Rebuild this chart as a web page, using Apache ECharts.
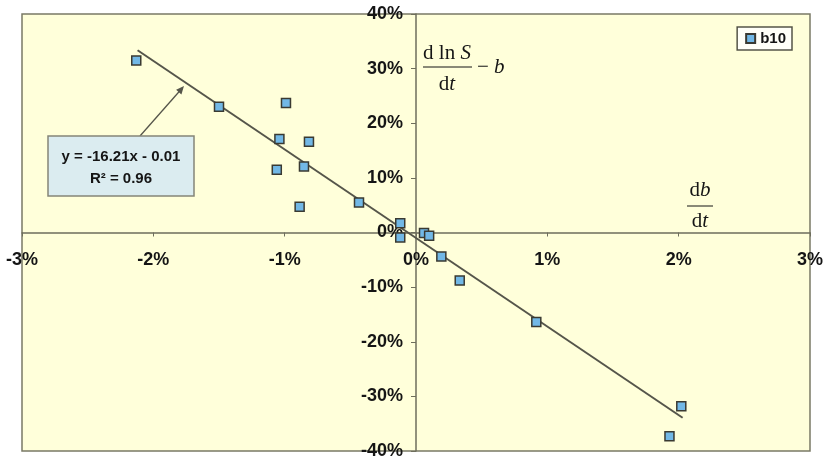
<!DOCTYPE html>
<html>
<head>
<meta charset="utf-8">
<script src="https://cdn.jsdelivr.net/npm/echarts@6/dist/echarts.min.js"></script>
<style>html,body{margin:0;padding:0;background:#fff}#c{width:827px;height:457px}</style>
</head>
<body>
<div id="c"></div>
<script>
// data in percent
const xVals = [-2.13, -1.50, -0.99, -1.04, -0.815, -1.06, -0.853, -0.886, -0.434, -0.12, -0.12, 0.061, 0.10, 0.193, 0.333, 0.916, 2.02, 1.93];
const yVals = [31.5, 23.0, 23.7, 17.1, 16.6, 11.5, 12.1, 4.7, 5.5, 1.7, -0.9, -0.1, -0.6, -4.4, -8.8, -16.4, -31.8, -37.3];
const seriesName = 'b10';
const slope = -16.21;
const interceptPct = -1; // -0.01 in fraction
const trendRange = [-2.12, 2.03];
const eqText = 'y = -16.21x - 0.01';
const r2Text = 'R² = 0.96';
const xTicks = { min: -3, max: 3, interval: 1 };
const yTicks = { min: -40, max: 40, interval: 10 };

const pts = xVals.map((x, i) => [x, yVals[i]]);
const trend = trendRange.map(x => [x, slope * x + interceptPct]);

const W = 827, H = 457;
const G = { left: 22, right: 17, top: 14, bottom: 6 };
const gw = W - G.left - G.right, gh = H - G.top - G.bottom;
// axes cross at zero: offset from grid edge to the zero position
const xAxisOffset = -gh * (0 - yTicks.min) / (yTicks.max - yTicks.min);
const yAxisOffset = -gw * (0 - xTicks.min) / (xTicks.max - xTicks.min);

const chart = echarts.init(document.getElementById('c'), null, { renderer: 'canvas' });
const axisCol = '#6e6e5c';
const labelStyle = { color: '#151515', fontFamily: 'Arial, "Liberation Sans", sans-serif', fontSize: 18, fontWeight: 'bold' };
const serif = '"Times New Roman", "Liberation Serif", serif';
const rich = {
  n: { fontFamily: serif, fontSize: 21, fill: '#151515' },
  i: { fontFamily: serif, fontSize: 21, fontStyle: 'italic', fill: '#151515' }
};

chart.setOption({
  animation: false,
  backgroundColor: '#ffffff',
  grid: Object.assign({ show: true, backgroundColor: '#FFFFDA', borderColor: '#7a7a66', borderWidth: 1.5, containLabel: false, outerBoundsMode: 'none' }, G),
  legend: {
    data: [seriesName], right: 35, top: 27, orient: 'vertical',
    backgroundColor: '#fffff8', borderColor: '#555548', borderWidth: 1.5,
    padding: [4, 6, 4, 8], itemWidth: 9, itemHeight: 9, itemGap: 0,
    icon: 'rect',
    textStyle: { color: '#151515', fontFamily: 'Arial, sans-serif', fontSize: 15, fontWeight: 'bold', padding: [0, 0, 0, 0] }
  },
  xAxis: {
    type: 'value', min: xTicks.min, max: xTicks.max, interval: xTicks.interval,
    position: 'bottom', offset: xAxisOffset,
    axisLine: { onZero: false, lineStyle: { color: axisCol, width: 1.5 } },
    axisTick: { show: true, length: 4, lineStyle: { color: axisCol } },
    splitLine: { show: false },
    axisLabel: Object.assign({ margin: 19, formatter: v => v + '%' }, labelStyle)
  },
  yAxis: {
    type: 'value', min: yTicks.min, max: yTicks.max, interval: yTicks.interval,
    position: 'left', offset: yAxisOffset,
    axisLine: { onZero: false, lineStyle: { color: axisCol, width: 1.5 } },
    axisTick: { show: true, length: 5, lineStyle: { color: axisCol } },
    splitLine: { show: false },
    axisLabel: Object.assign({ margin: 13, formatter: v => v + '%' }, labelStyle)
  },
  series: [
    {
      name: 'trend', type: 'line', data: trend, showSymbol: false, symbol: 'none',
      lineStyle: { color: '#55554a', width: 2 }, z: 2, silent: true
    },
    {
      name: seriesName, type: 'scatter', data: pts, symbol: 'rect', symbolSize: 9,
      itemStyle: { color: '#72b8e6', borderColor: '#3a3a32', borderWidth: 1.5, opacity: 1 }, z: 3
    }
  ],
  graphic: [
    // equation box
    { type: 'rect', shape: { x: 48, y: 136, width: 146, height: 60 }, style: { fill: '#dbecf0', stroke: '#858578', lineWidth: 1.5 }, z: 10 },
    { type: 'text', x: 121, y: 157, style: { text: eqText, fill: '#151515', font: 'bold 15px Arial, sans-serif', align: 'center', verticalAlign: 'middle' }, z: 11 },
    { type: 'text', x: 121, y: 179, style: { text: r2Text, fill: '#151515', font: 'bold 15px Arial, sans-serif', align: 'center', verticalAlign: 'middle' }, z: 11 },
    // arrow
    { type: 'line', shape: { x1: 140, y1: 136, x2: 181, y2: 89.5 }, style: { stroke: '#55554a', lineWidth: 1.3 }, z: 9 },
    { type: 'polygon', shape: { points: [[184, 86], [181.4, 94.4], [176.1, 89.8]] }, style: { fill: '#55554a' }, z: 10 },
    // d ln S / dt - b
    { type: 'text', x: 447, y: 53, style: { text: '{n|d ln }{i|S}', rich: rich, align: 'center', verticalAlign: 'middle' }, z: 10 },
    { type: 'line', shape: { x1: 423, y1: 67, x2: 472, y2: 67 }, style: { stroke: '#151515', lineWidth: 1 }, z: 10 },
    { type: 'text', x: 447, y: 84, style: { text: '{n|d}{i|t}', rich: rich, align: 'center', verticalAlign: 'middle' }, z: 10 },
    { type: 'text', x: 477, y: 67, style: { text: '{n|− }{i|b}', rich: rich, align: 'left', verticalAlign: 'middle' }, z: 10 },
    // db/dt
    { type: 'text', x: 700, y: 190, style: { text: '{n|d}{i|b}', rich: rich, align: 'center', verticalAlign: 'middle' }, z: 10 },
    { type: 'line', shape: { x1: 687, y1: 206, x2: 713, y2: 206 }, style: { stroke: '#151515', lineWidth: 1 }, z: 10 },
    { type: 'text', x: 700, y: 221, style: { text: '{n|d}{i|t}', rich: rich, align: 'center', verticalAlign: 'middle' }, z: 10 }
  ]
});
</script>
</body>
</html>
